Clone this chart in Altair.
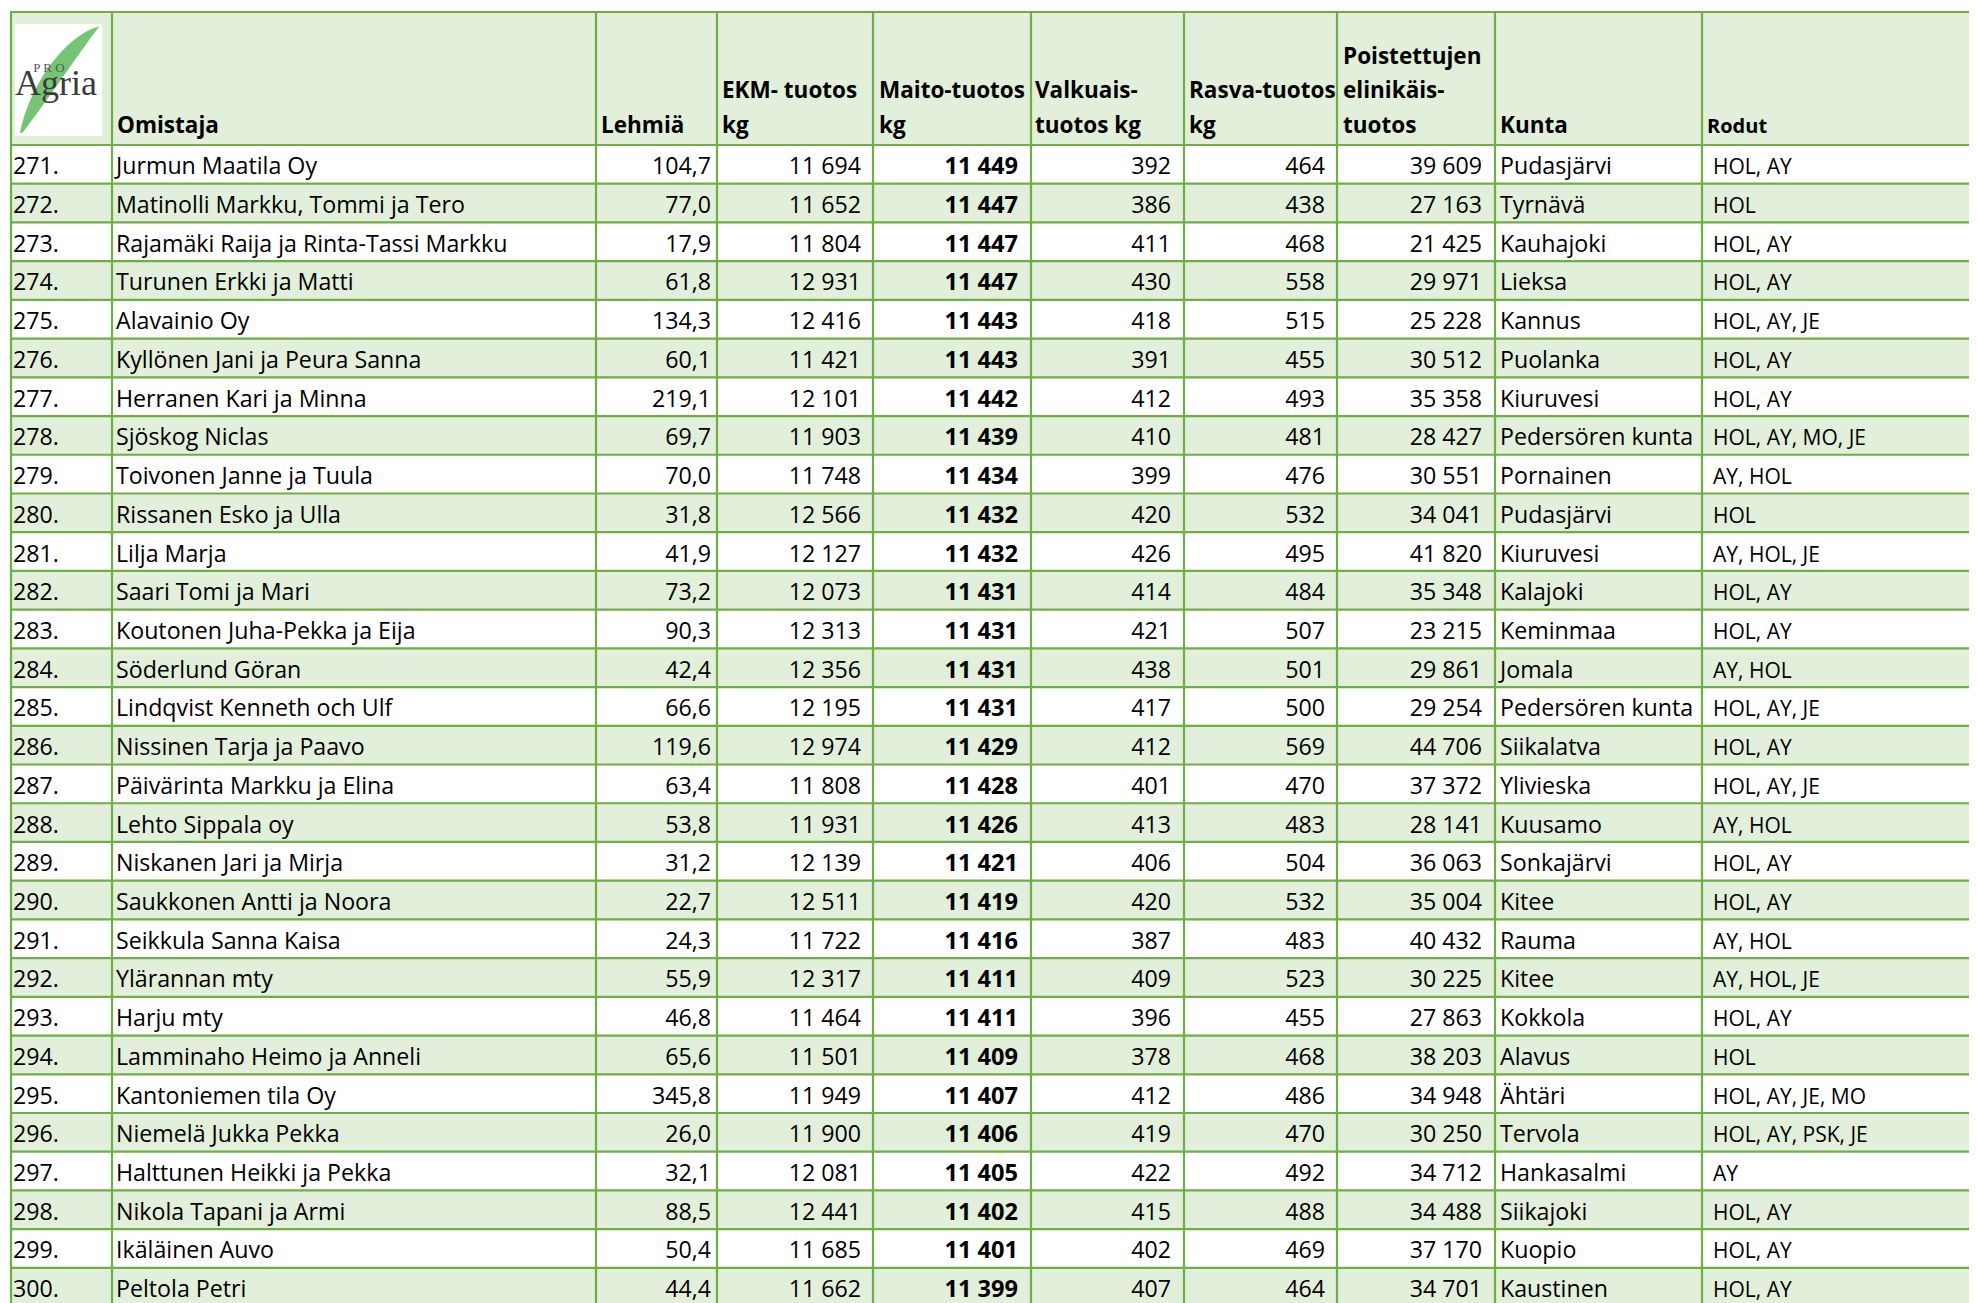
import altair as alt
import pandas as pd

# ------------------------------------------------------------------ data
RANKS = list(range(271, 301))
OWNERS = [
    "Jurmun Maatila Oy", "Matinolli Markku, Tommi ja Tero",
    "Rajamäki Raija ja Rinta-Tassi Markku", "Turunen Erkki ja Matti",
    "Alavainio Oy", "Kyllönen Jani ja Peura Sanna", "Herranen Kari ja Minna",
    "Sjöskog Niclas", "Toivonen Janne ja Tuula", "Rissanen Esko ja Ulla",
    "Lilja Marja", "Saari Tomi ja Mari", "Koutonen Juha-Pekka ja Eija",
    "Söderlund Göran", "Lindqvist Kenneth och Ulf", "Nissinen Tarja ja Paavo",
    "Päivärinta Markku ja Elina", "Lehto Sippala oy", "Niskanen Jari ja Mirja",
    "Saukkonen Antti ja Noora", "Seikkula Sanna Kaisa", "Ylärannan mty",
    "Harju mty", "Lamminaho Heimo ja Anneli", "Kantoniemen tila Oy",
    "Niemelä Jukka Pekka", "Halttunen Heikki ja Pekka", "Nikola Tapani ja Armi",
    "Ikäläinen Auvo", "Peltola Petri",
]
COWS = [104.7, 77.0, 17.9, 61.8, 134.3, 60.1, 219.1, 69.7, 70.0, 31.8,
        41.9, 73.2, 90.3, 42.4, 66.6, 119.6, 63.4, 53.8, 31.2, 22.7,
        24.3, 55.9, 46.8, 65.6, 345.8, 26.0, 32.1, 88.5, 50.4, 44.4]
EKM = [11694, 11652, 11804, 12931, 12416, 11421, 12101, 11903, 11748, 12566,
       12127, 12073, 12313, 12356, 12195, 12974, 11808, 11931, 12139, 12511,
       11722, 12317, 11464, 11501, 11949, 11900, 12081, 12441, 11685, 11662]
MILK = [11449, 11447, 11447, 11447, 11443, 11443, 11442, 11439, 11434, 11432,
        11432, 11431, 11431, 11431, 11431, 11429, 11428, 11426, 11421, 11419,
        11416, 11411, 11411, 11409, 11407, 11406, 11405, 11402, 11401, 11399]
PROTEIN = [392, 386, 411, 430, 418, 391, 412, 410, 399, 420,
           426, 414, 421, 438, 417, 412, 401, 413, 406, 420,
           387, 409, 396, 378, 412, 419, 422, 415, 402, 407]
FAT = [464, 438, 468, 558, 515, 455, 493, 481, 476, 532,
       495, 484, 507, 501, 500, 569, 470, 483, 504, 532,
       483, 523, 455, 468, 486, 470, 492, 488, 469, 464]
LIFETIME = [39609, 27163, 21425, 29971, 25228, 30512, 35358, 28427, 30551, 34041,
            41820, 35348, 23215, 29861, 29254, 44706, 37372, 28141, 36063, 35004,
            40432, 30225, 27863, 38203, 34948, 30250, 34712, 34488, 37170, 34701]
MUNICIPALITIES = [
    "Pudasjärvi", "Tyrnävä", "Kauhajoki", "Lieksa", "Kannus", "Puolanka",
    "Kiuruvesi", "Pedersören kunta", "Pornainen", "Pudasjärvi", "Kiuruvesi",
    "Kalajoki", "Keminmaa", "Jomala", "Pedersören kunta", "Siikalatva",
    "Ylivieska", "Kuusamo", "Sonkajärvi", "Kitee", "Rauma", "Kitee",
    "Kokkola", "Alavus", "Ähtäri", "Tervola", "Hankasalmi", "Siikajoki",
    "Kuopio", "Kaustinen",
]
BREEDS = [
    "HOL, AY", "HOL", "HOL, AY", "HOL, AY", "HOL, AY, JE", "HOL, AY", "HOL, AY",
    "HOL, AY, MO, JE", "AY, HOL", "HOL", "AY, HOL, JE", "HOL, AY", "HOL, AY",
    "AY, HOL", "HOL, AY, JE", "HOL, AY", "HOL, AY, JE", "AY, HOL", "HOL, AY",
    "HOL, AY", "AY, HOL", "AY, HOL, JE", "HOL, AY", "HOL", "HOL, AY, JE, MO",
    "HOL, AY, PSK, JE", "AY", "HOL, AY", "HOL, AY", "HOL, AY",
]
HEADERS = [
    ["Omistaja"], ["Lehmiä"], ["EKM- tuotos", "kg"], ["Maito-tuotos", "kg"],
    ["Valkuais-", "tuotos kg"], ["Rasva-tuotos", "kg"],
    ["Poistettujen", "elinikäis-", "tuotos"], ["Kunta"], ["Rodut"],
]
LOGO_WORD = "Agria"
LOGO_SMALL = "P R O"

# ------------------------------------------------------------------ layout (page pixels)
W, H = 1961, 1295
OX, OY = 8, 8
COL_EDGES = [11, 112, 596, 717, 873, 1031, 1184, 1337, 1495, 1702]
RIGHT_END = 2100
TOP, HEAD_BOTTOM, ROW_H = 12, 145, 38.72
BASE_OFF = 29.3
HEAD_BASE, HEAD_LINE = 133, 34.7
HEAD_X = [117, 601, 722, 879, 1035, 1189, 1343, 1500, 1707]
GREEN_BG = "#E2EFDA"
GRID = "#70AD47"
FONT = "Open Sans"
FS = 23.2
FS_BOLD = 23.6
FS_SMALL = 21
FS_HEAD = 22.5
FS_HEAD_SMALL = 20

xs = alt.Scale(domain=[OX, OX + W], range=[0, W], zero=False, nice=False)
ys = alt.Scale(domain=[OY, OY + H], range=[0, H], zero=False, nice=False)


def fint(v):
    return f"{v:,}".replace(",", " ")


def fdec(v):
    return f"{v:.1f}".replace(".", ",")


n = len(RANKS)
row_top = [HEAD_BOTTOM + i * ROW_H for i in range(n)]
base = [t + BASE_OFF for t in row_top]

# backgrounds
bg = pd.DataFrame(
    [{"x": COL_EDGES[0], "x2": RIGHT_END, "y": TOP, "y2": HEAD_BOTTOM, "fill": GREEN_BG}]
    + [{"x": COL_EDGES[0], "x2": RIGHT_END, "y": row_top[i], "y2": row_top[i] + ROW_H,
        "fill": "white" if i % 2 == 0 else GREEN_BG} for i in range(n)]
)
bg_layer = alt.Chart(bg).mark_rect().encode(
    x=alt.X("x:Q", scale=xs, axis=None), x2="x2:Q",
    y=alt.Y("y:Q", scale=ys, axis=None), y2="y2:Q",
    color=alt.Color("fill:N", scale=None),
)

# grid
lines = [{"x": COL_EDGES[0] - 1, "x2": RIGHT_END, "y": TOP, "y2": TOP},
         {"x": COL_EDGES[0] - 1, "x2": RIGHT_END, "y": HEAD_BOTTOM, "y2": HEAD_BOTTOM}]
lines += [{"x": COL_EDGES[0] - 1, "x2": RIGHT_END, "y": t + ROW_H, "y2": t + ROW_H} for t in row_top]
lines += [{"x": e, "x2": e, "y": TOP - 1, "y2": HEAD_BOTTOM + n * ROW_H + 5} for e in COL_EDGES]
grid_layer = alt.Chart(pd.DataFrame(lines)).mark_rule(color=GRID, strokeWidth=2.2).encode(
    x=alt.X("x:Q", scale=xs, axis=None), x2="x2:Q",
    y=alt.Y("y:Q", scale=ys, axis=None), y2="y2:Q",
)

# body text
left_cells, right_cells, bold_cells, small_cells = [], [], [], []
for i in range(n):
    left_cells.append({"x": 13, "y": base[i], "t": f"{RANKS[i]}."})
    left_cells.append({"x": 116, "y": base[i], "t": OWNERS[i]})
    right_cells.append({"x": 711, "y": base[i], "t": fdec(COWS[i])})
    right_cells.append({"x": 861, "y": base[i], "t": fint(EKM[i])})
    bold_cells.append({"x": 1018, "y": base[i], "t": fint(MILK[i])})
    right_cells.append({"x": 1171, "y": base[i], "t": fint(PROTEIN[i])})
    right_cells.append({"x": 1325, "y": base[i], "t": fint(FAT[i])})
    right_cells.append({"x": 1482, "y": base[i], "t": fint(LIFETIME[i])})
    left_cells.append({"x": 1500, "y": base[i], "t": MUNICIPALITIES[i]})
    small_cells.append({"x": 1713, "y": base[i], "t": BREEDS[i]})

head_cells, head_small = [], []
for j, lab in enumerate(HEADERS):
    k = len(lab)
    for li, line in enumerate(lab):
        rec = {"x": HEAD_X[j], "y": HEAD_BASE - (k - 1 - li) * HEAD_LINE, "t": line}
        (head_small if j == len(HEADERS) - 1 else head_cells).append(rec)


def text_layer(rows, **kw):
    return alt.Chart(pd.DataFrame(rows)).mark_text(
        baseline="alphabetic", font=FONT, color="black", **kw
    ).encode(
        x=alt.X("x:Q", scale=xs, axis=None),
        y=alt.Y("y:Q", scale=ys, axis=None),
        text="t:N",
    )


t_left = text_layer(left_cells, align="left", fontSize=FS)
t_right = text_layer(right_cells, align="right", fontSize=FS)
t_bold = text_layer(bold_cells, align="right", fontSize=FS_BOLD, fontWeight="bold")
t_small = text_layer(small_cells, align="left", fontSize=FS_SMALL)
t_head = text_layer(head_cells, align="left", fontSize=FS_HEAD, fontWeight="bold")
t_head_small = text_layer(head_small, align="left", fontSize=FS_HEAD_SMALL, fontWeight="bold")

# logo
logo_box = alt.Chart(pd.DataFrame([{"x": 15, "x2": 102, "y": 24, "y2": 136}])).mark_rect(
    color="white").encode(
    x=alt.X("x:Q", scale=xs, axis=None), x2="x2:Q",
    y=alt.Y("y:Q", scale=ys, axis=None), y2="y2:Q")
SWOOSH = ("M -0.68 0.94 C -0.51 0.12 0.09 -0.78 0.74 -0.96 "
          "C 0.40 -0.52 -0.19 0.37 -0.64 0.95 Z")
swoosh = alt.Chart(pd.DataFrame([{"x": 58, "y": 80}])).mark_point(
    shape=SWOOSH, filled=True, fill="#76c575", size=112 * 112, strokeWidth=0, opacity=1
).encode(x=alt.X("x:Q", scale=xs, axis=None), y=alt.Y("y:Q", scale=ys, axis=None))
logo_word = alt.Chart(pd.DataFrame([{"x": 15, "y": 95, "t": LOGO_WORD}])).mark_text(
    align="left", baseline="alphabetic", font="Liberation Serif", fontSize=36, color="#3b3b3b"
).encode(x=alt.X("x:Q", scale=xs, axis=None), y=alt.Y("y:Q", scale=ys, axis=None), text="t:N")
logo_small = alt.Chart(pd.DataFrame([{"x": 49, "y": 72, "t": LOGO_SMALL}])).mark_text(
    align="center", baseline="alphabetic", font="Liberation Serif", fontSize=13, color="#555555"
).encode(x=alt.X("x:Q", scale=xs, axis=None), y=alt.Y("y:Q", scale=ys, axis=None), text="t:N")

chart = alt.layer(
    bg_layer, grid_layer, logo_box, swoosh, logo_word, logo_small,
    t_left, t_right, t_bold, t_small, t_head, t_head_small,
).properties(
    width=W, height=H, padding=0, autosize="none", background="white"
).configure_view(stroke=None)

chart.save("out.html", embed_options={"renderer": "svg", "actions": False})
